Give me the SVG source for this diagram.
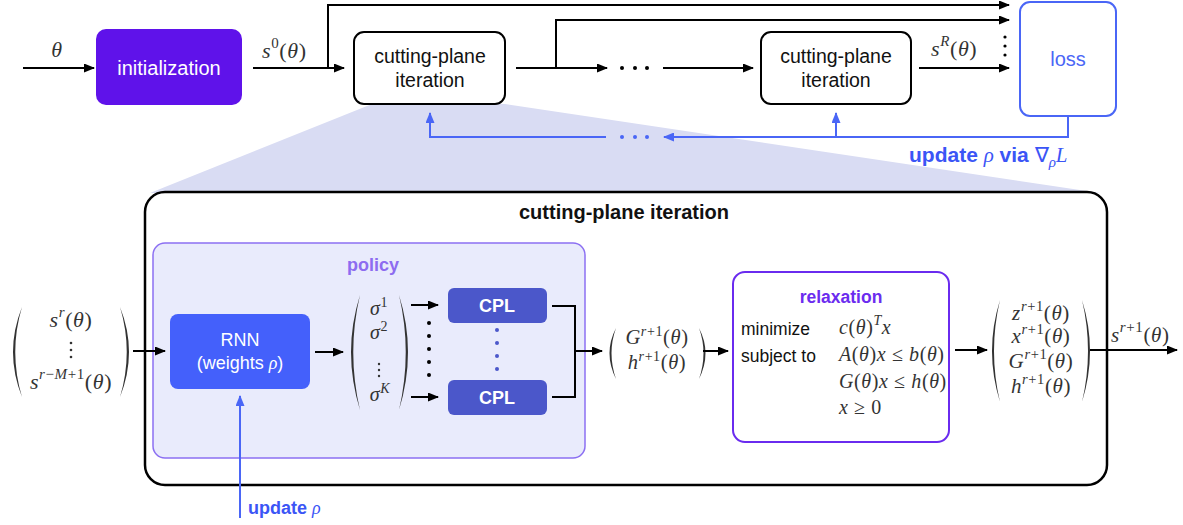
<svg xmlns="http://www.w3.org/2000/svg" width="1183" height="525" viewBox="0 0 1183 525">
<style>
.t{font-family:"Liberation Sans",Arial,sans-serif}
.m{font-family:"Liberation Serif","Times New Roman",serif;font-style:italic;fill:#333;letter-spacing:0.6px}
.up{font-style:normal}
.ln{fill:none;stroke:#000;stroke-width:2}
.bl{fill:none;stroke:#4A66F6;stroke-width:2}
.par{fill:#333}
</style>
<defs>
<marker id="ah" markerUnits="userSpaceOnUse" markerWidth="11" markerHeight="9" refX="10" refY="4.5" orient="auto"><path d="M0,0 L11,4.5 L0,9 z" fill="#000"/></marker>
<marker id="ab" markerUnits="userSpaceOnUse" markerWidth="11" markerHeight="9" refX="10" refY="4.5" orient="auto"><path d="M0,0 L11,4.5 L0,9 z" fill="#4A66F6"/></marker>
</defs>
<rect width="1183" height="525" fill="#fff"/>
<polygon points="372,104 505,104 1100,193 150,193" fill="#D9DCF3"/>

<g id="connectors">
<path class="ln" d="M23,68 H94" marker-end="url(#ah)"/>
<path class="ln" d="M253,68 H344" marker-end="url(#ah)"/>
<path class="ln" d="M328,68 V5 H1009" marker-end="url(#ah)"/>
<path class="ln" d="M516,68 H607" marker-end="url(#ah)"/>
<path class="ln" d="M556,68 V20 H1009" marker-end="url(#ah)"/>
<path class="ln" d="M663,68 H753" marker-end="url(#ah)"/>
<path class="ln" d="M919,68 H1009" marker-end="url(#ah)"/>
<g fill="#000"><circle cx="622" cy="68" r="2"/><circle cx="635" cy="68" r="2"/><circle cx="647" cy="68" r="2"/>
<circle cx="1005" cy="37" r="1.6"/><circle cx="1005" cy="46" r="1.6"/><circle cx="1005" cy="55" r="1.6"/></g>
<path class="bl" d="M1068,116 V137 H664" marker-end="url(#ab)"/>
<path class="bl" d="M836,137 V113" marker-end="url(#ab)"/>
<path class="bl" d="M606,137 H430 V113" marker-end="url(#ab)"/>
<g fill="#4A66F6"><circle cx="622" cy="137" r="2"/><circle cx="635" cy="137" r="2"/><circle cx="647" cy="137" r="2"/></g>
</g>

<g id="theta-label"><text class="m" x="57" y="57" font-size="22" text-anchor="middle">θ</text></g>
<g id="s0-label"><text class="m" x="262" y="58" font-size="22">s<tspan class="up" font-size="15" dy="-10">0</tspan><tspan class="up" dy="10">(</tspan>θ<tspan class="up">)</tspan></text></g>
<g id="sR-label"><text class="m" x="931" y="56" font-size="22">s<tspan font-size="15" dy="-10">R</tspan><tspan class="up" dy="10">(</tspan>θ<tspan class="up">)</tspan></text></g>

<g id="initialization">
<rect x="96" y="29" width="146" height="76" rx="10" fill="#5F12EA"/>
<text class="t" x="169" y="75" font-size="20" fill="#fff" text-anchor="middle">initialization</text>
</g>
<g id="cp-iter-1">
<rect x="354" y="32" width="151" height="72" rx="10" fill="#fff" stroke="#000" stroke-width="2"/>
<text class="t" x="430" y="63" font-size="19.5" fill="#111" text-anchor="middle">cutting-plane</text>
<text class="t" x="430" y="87" font-size="19.5" fill="#111" text-anchor="middle">iteration</text>
</g>
<g id="cp-iter-R">
<rect x="761" y="32" width="150" height="72" rx="10" fill="#fff" stroke="#000" stroke-width="2"/>
<text class="t" x="836" y="63" font-size="19.5" fill="#111" text-anchor="middle">cutting-plane</text>
<text class="t" x="836" y="87" font-size="19.5" fill="#111" text-anchor="middle">iteration</text>
</g>
<g id="loss">
<rect x="1020" y="2" width="96" height="114" rx="10" fill="#fff" stroke="#4A66F6" stroke-width="2"/>
<text class="t" x="1068" y="66" font-size="20" fill="#4A66F6" text-anchor="middle">loss</text>
</g>
<g id="update-label">
<text x="909" y="162" font-size="21" fill="#3B55F6"><tspan class="t" font-weight="bold">update </tspan><tspan font-family="Liberation Serif,serif" font-style="italic">ρ</tspan><tspan class="t" font-weight="bold"> via </tspan><tspan font-family="Liberation Serif,serif">∇</tspan><tspan font-family="Liberation Serif,serif" font-style="italic" font-size="15" dy="5">ρ</tspan><tspan font-family="Liberation Serif,serif" font-style="italic" dy="-5">L</tspan></text>
</g>

<g id="cutting-plane-iteration">
<rect x="145" y="192" width="962" height="293" rx="20" fill="#fff" stroke="#000" stroke-width="2.5"/>
<text class="t" x="624" y="219" font-size="20" font-weight="bold" fill="#111" text-anchor="middle">cutting-plane iteration</text>
</g>

<g id="input-matrix">
<path class="par" d="M22,307 Q4,352 22,397 Q8.5,352 22,307 Z"/>
<path class="par" d="M120,307 Q138,352 120,397 Q133.5,352 120,307 Z"/>
<text class="m" x="71" y="327" font-size="22" text-anchor="middle">s<tspan font-size="15" dy="-10">r</tspan><tspan class="up" dy="10">(</tspan>θ<tspan class="up">)</tspan></text>
<g fill="#333"><circle cx="71" cy="343" r="1.3"/><circle cx="71" cy="350" r="1.3"/><circle cx="71" cy="357" r="1.3"/></g>
<text class="m" x="71" y="389" font-size="22" text-anchor="middle">s<tspan font-size="15" dy="-10">r<tspan class="up">−</tspan>M<tspan class="up">+1</tspan></tspan><tspan class="up" dy="10">(</tspan>θ<tspan class="up">)</tspan></text>
</g>

<g id="policy">
<rect x="153" y="243" width="432" height="215" rx="12" fill="#E9EBFC" stroke="#8C70F2" stroke-width="1.5"/>
<text class="t" x="373" y="271" font-size="18" font-weight="bold" fill="#8D6CF0" text-anchor="middle">policy</text>
</g>
<g id="rnn">
<rect x="170" y="314" width="140" height="75" rx="8" fill="#4460FB"/>
<text class="t" x="240" y="346" font-size="18" fill="#fff" text-anchor="middle">RNN</text>
<text x="240" y="369" font-size="18" fill="#fff" text-anchor="middle"><tspan class="t">(weights </tspan><tspan font-family="Liberation Serif,serif" font-style="italic">ρ</tspan><tspan class="t">)</tspan></text>
</g>
<g id="sigma-matrix">
<path class="par" d="M360,295 Q342,352 360,410 Q346.5,352 360,295 Z"/>
<path class="par" d="M399,295 Q417,352 399,410 Q412.5,352 399,295 Z"/>
<text class="m" x="379" y="315" font-size="20" text-anchor="middle">σ<tspan class="up" font-size="14" dy="-8">1</tspan></text>
<text class="m" x="379" y="339" font-size="20" text-anchor="middle">σ<tspan class="up" font-size="14" dy="-8">2</tspan></text>
<g fill="#333"><circle cx="379" cy="364" r="1.2"/><circle cx="379" cy="370" r="1.2"/><circle cx="379" cy="376" r="1.2"/></g>
<text class="m" x="380" y="401" font-size="20" text-anchor="middle">σ<tspan font-size="14" dy="-8">K</tspan></text>
</g>
<g id="cpl-1">
<rect x="448" y="288" width="99" height="35" rx="6" fill="#4B57CA"/>
<text class="t" x="497" y="312" font-size="18" font-weight="bold" fill="#fff" text-anchor="middle">CPL</text>
</g>
<g id="cpl-K">
<rect x="448" y="380" width="99" height="35" rx="6" fill="#4B57CA"/>
<text class="t" x="497" y="404" font-size="18" font-weight="bold" fill="#fff" text-anchor="middle">CPL</text>
</g>
<g id="gh-matrix">
<path class="par" d="M616,328 Q603,353 616,379 Q607,353 616,328 Z"/>
<path class="par" d="M699,328 Q712,353 699,379 Q708,353 699,328 Z"/>
<text class="m" x="657" y="344" font-size="20.5" text-anchor="middle">G<tspan class="up" font-size="14" dy="-8"><tspan class="m">r</tspan>+1</tspan><tspan class="up" dy="8">(</tspan>θ<tspan class="up">)</tspan></text>
<text class="m" x="657" y="369" font-size="20.5" text-anchor="middle">h<tspan class="up" font-size="14" dy="-8"><tspan class="m">r</tspan>+1</tspan><tspan class="up" dy="8">(</tspan>θ<tspan class="up">)</tspan></text>
</g>
<g id="relaxation">
<rect x="733" y="272" width="216" height="170" rx="12" fill="#fff" stroke="#6A2BEF" stroke-width="2"/>
<text class="t" x="841" y="303" font-size="17.5" font-weight="bold" fill="#6B2CEF" text-anchor="middle">relaxation</text>
<text class="t" x="741" y="335" font-size="17.5" fill="#111">minimize</text>
<text class="t" x="741" y="362" font-size="17.5" fill="#111">subject to</text>
<text class="m" x="839" y="334" font-size="20">c<tspan class="up">(</tspan>θ<tspan class="up">)</tspan><tspan font-size="14" dy="-9">T</tspan><tspan dy="9">x</tspan></text>
<text class="m" x="839" y="361" font-size="20" letter-spacing="0.2">A<tspan class="up">(</tspan>θ<tspan class="up">)</tspan>x <tspan class="up">≤</tspan> b<tspan class="up">(</tspan>θ<tspan class="up">)</tspan></text>
<text class="m" x="839" y="388" font-size="20" letter-spacing="0.2">G<tspan class="up">(</tspan>θ<tspan class="up">)</tspan>x <tspan class="up">≤</tspan> h<tspan class="up">(</tspan>θ<tspan class="up">)</tspan></text>
<text class="m" x="839" y="414" font-size="20">x <tspan class="up">≥ 0</tspan></text>
</g>
<g id="output-matrix">
<path class="par" d="M1000,300 Q984,351 1000,402 Q988,351 1000,300 Z"/>
<path class="par" d="M1082,300 Q1098,351 1082,402 Q1094,351 1082,300 Z"/>
<text class="m" x="1041" y="320" font-size="21" text-anchor="middle">z<tspan class="up" font-size="14.5" dy="-9"><tspan class="m">r</tspan>+1</tspan><tspan class="up" dy="9">(</tspan>θ<tspan class="up">)</tspan></text>
<text class="m" x="1041" y="343" font-size="21" text-anchor="middle">x<tspan class="up" font-size="14.5" dy="-9"><tspan class="m">r</tspan>+1</tspan><tspan class="up" dy="9">(</tspan>θ<tspan class="up">)</tspan></text>
<text class="m" x="1041" y="368" font-size="21" text-anchor="middle">G<tspan class="up" font-size="14.5" dy="-9"><tspan class="m">r</tspan>+1</tspan><tspan class="up" dy="9">(</tspan>θ<tspan class="up">)</tspan></text>
<text class="m" x="1041" y="393" font-size="21" text-anchor="middle">h<tspan class="up" font-size="14.5" dy="-9"><tspan class="m">r</tspan>+1</tspan><tspan class="up" dy="9">(</tspan>θ<tspan class="up">)</tspan></text>
</g>
<g id="s-next-label"><text class="m" x="1111" y="342" font-size="21">s<tspan class="up" font-size="15" dy="-10"><tspan class="m">r</tspan>+1</tspan><tspan class="up" dy="10">(</tspan>θ<tspan class="up">)</tspan></text></g>

<g id="inner-connectors">
<path class="ln" d="M133,351 H165" marker-end="url(#ah)"/>
<path class="ln" d="M315,352 H343" marker-end="url(#ah)"/>
<path class="ln" d="M411,305 H438" marker-end="url(#ah)"/>
<path class="ln" d="M411,397 H438" marker-end="url(#ah)"/>
<g fill="#000"><circle cx="429" cy="323" r="2"/><circle cx="429" cy="336" r="2"/><circle cx="429" cy="349" r="2"/><circle cx="429" cy="362" r="2"/><circle cx="429" cy="375" r="2"/></g>
<g fill="#4B57CA"><circle cx="497" cy="330" r="2"/><circle cx="497" cy="343" r="2"/><circle cx="497" cy="356" r="2"/><circle cx="497" cy="369" r="2"/></g>
<path class="ln" d="M552,306 H575 V397 H552"/>
<path class="ln" d="M575,351 H602" marker-end="url(#ah)"/>
<path class="ln" d="M703,351 H728" marker-end="url(#ah)"/>
<path class="ln" d="M955,350 H987" marker-end="url(#ah)"/>
<path class="ln" d="M1090,350 H1177" marker-end="url(#ah)"/>
<path class="bl" d="M240,518 V396" marker-end="url(#ab)"/>
</g>
<g id="update-rho-label">
<text x="248" y="514" font-size="18" fill="#3B55F6"><tspan class="t" font-weight="bold">update </tspan><tspan font-family="Liberation Serif,serif" font-style="italic">ρ</tspan></text>
</g>
</svg>
